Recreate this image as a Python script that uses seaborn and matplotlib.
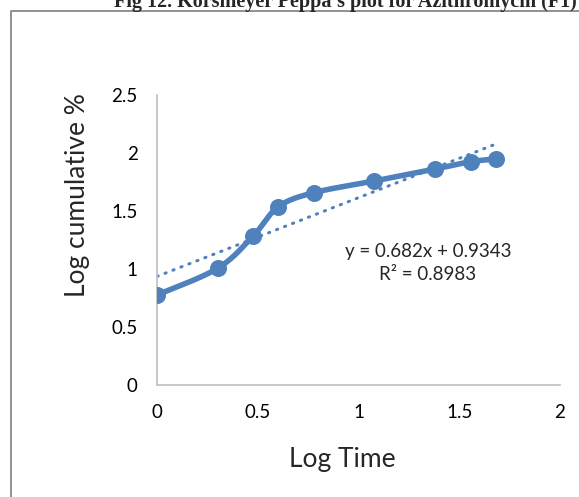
import numpy as np
import pandas as pd
import matplotlib
matplotlib.use("Agg")
import matplotlib.pyplot as plt
from matplotlib.lines import Line2D
import seaborn as sns

# ---- data ----
log_time = [0.0, 0.301, 0.477, 0.602, 0.778, 1.079, 1.380, 1.556, 1.681]
log_cum = [0.776, 1.006, 1.284, 1.537, 1.658, 1.759, 1.862, 1.925, 1.948]
x_ticks = [0, 0.5, 1, 1.5, 2]
x_tick_labels = ["0", "0.5", "1", "1.5", "2"]
y_ticks = [0, 0.5, 1, 1.5, 2, 2.5]
y_tick_labels = ["0", "0.5", "1", "1.5", "2", "2.5"]
title = "Fig 12. Korsmeyer Peppa's plot for Azithromycin (F1)"
equation = "y = 0.682x + 0.9343\nR² = 0.8983"

BLUE = "#4F81BD"
FONT = "Lato"

sns.set_theme(style="white")
plt.rcParams["font.family"] = [FONT, "DejaVu Sans"]

df = pd.DataFrame({"x": log_time, "y": log_cum})


def excel_smooth(xs, ys, n=30):
    """Bezier smoothing like Excel's 'smoothed line' (Catmull-Rom style)."""
    P = np.column_stack([xs, ys])
    out = []
    for i in range(len(P) - 1):
        p0 = P[i - 1] if i > 0 else P[i]
        p1 = P[i]
        p2 = P[i + 1]
        p3 = P[i + 2] if i + 2 < len(P) else P[i + 1]
        c1 = p1 + (p2 - p0) / 6.0
        c2 = p2 - (p3 - p1) / 6.0
        t = np.linspace(0, 1, n, endpoint=(i == len(P) - 2))[:, None]
        seg = ((1 - t) ** 3) * p1 + 3 * ((1 - t) ** 2) * t * c1 + 3 * (1 - t) * t ** 2 * c2 + t ** 3 * p2
        out.append(seg)
    return np.vstack(out)


fig = plt.figure(figsize=(5.79, 4.97), dpi=100)
ax = fig.add_axes([157 / 579, 1 - 385 / 497, (560 - 157) / 579, (385 - 95) / 497])

smooth = excel_smooth(df["x"].values, df["y"].values)
sdf = pd.DataFrame({"x": smooth[:, 0], "y": smooth[:, 1]})

# linear trendline (dotted)
sns.regplot(data=df, x="x", y="y", ax=ax, scatter=False, ci=None, truncate=True,
            line_kws=dict(color=BLUE, lw=2.2, linestyle=(0, (0.4, 2.4)),
                          dash_capstyle="round", zorder=2))

sns.lineplot(data=sdf, x="x", y="y", ax=ax, sort=False, color=BLUE, lw=4.0,
             estimator=None, zorder=3)
sns.scatterplot(data=df, x="x", y="y", ax=ax, color=BLUE, s=150, edgecolor=BLUE,
                linewidth=0, zorder=4)

ax.set_xlim(0, 2)
ax.set_ylim(0, 2.5)
ax.set_xticks(x_ticks)
ax.set_xticklabels(x_tick_labels)
ax.set_yticks(y_ticks)
ax.set_yticklabels(y_tick_labels)
ax.tick_params(axis="both", length=0, labelsize=13.5, colors="black")
ax.tick_params(axis="x", pad=14)
ax.tick_params(axis="y", pad=14)
for lab in ax.get_xticklabels() + ax.get_yticklabels():
    lab.set_fontfamily([FONT, "DejaVu Sans"])

for s in ["top", "right"]:
    ax.spines[s].set_visible(False)
for s in ["left", "bottom"]:
    ax.spines[s].set_color("#BFBFBF")
    ax.spines[s].set_linewidth(1.2)
ax.grid(False)

ax.set_xlabel("Log Time", fontsize=19, va="center")
ax.set_ylabel("Log cumulative %", fontsize=19, va="center")
ax.xaxis.set_label_coords((342 - 157) / 403, (385 - 460) / 290)
ax.yaxis.set_label_coords((78 - 157) / 403, (385 - 195) / 290)

ax.text((428 - 157) / 403, (385 - 263) / 290, equation, transform=ax.transAxes,
        ha="center", va="center", fontsize=13.5, linespacing=1.45)

# outer chart frame (partially visible)
fig.add_artist(Line2D([11 / 579, 11 / 579, 1.01], [-0.01, 1 - 11 / 497, 1 - 11 / 497],
                      transform=fig.transFigure, color="#7F7F7F", lw=1.2))

# cut-off caption, as in the reference
fig.text(345 / 579, 1 - 7 / 497, title, ha="center", va="baseline",
         fontsize=14.5, fontweight="bold", family=["Liberation Serif", "DejaVu Serif"])

fig.savefig("out.png", dpi=100)
